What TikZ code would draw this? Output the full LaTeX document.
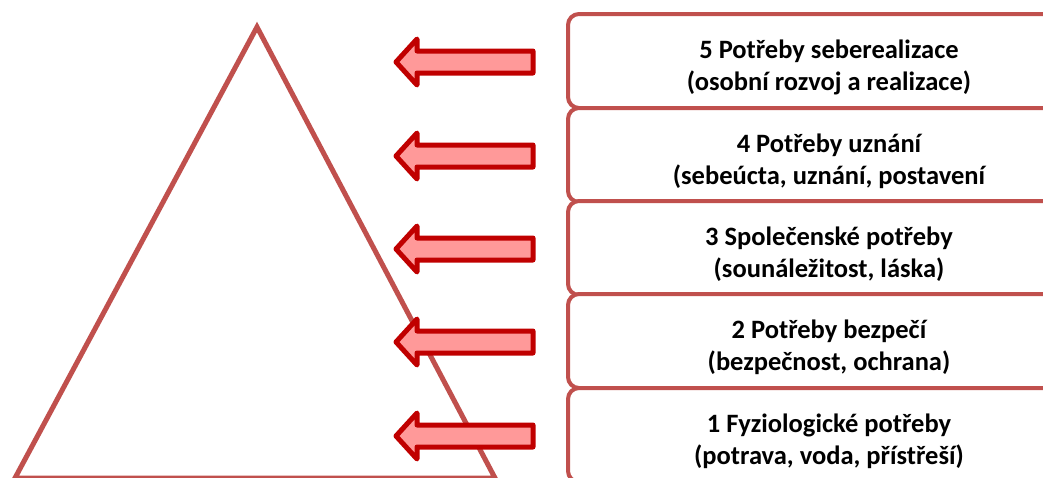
\documentclass[tikz,border=0pt]{standalone}
\usepackage{fontspec}
\setmainfont{Carlito}
\definecolor{pyramid}{HTML}{C0504D}
\definecolor{arrowline}{HTML}{C00000}
\definecolor{arrowfill}{HTML}{FF9999}

\begin{document}
\begin{tikzpicture}[x=1pt,y=-1pt,
  level/.style={draw=pyramid, line width=4pt, fill=white, rounded corners=11pt,
    rectangle, minimum width=537pt, minimum height=94pt, inner sep=0pt, outer sep=0pt,
    anchor=north west},
  pointer/.style={draw=arrowline, fill=arrowfill, line width=5pt, line join=round},
  caption/.style={font=\bfseries\fontsize{26.5}{32}\selectfont, anchor=base, inner sep=0pt}]
\useasboundingbox (0,0) rectangle (1043,477);
\clip (0,0) rectangle (1043,477);

% pyramid outline
\draw[draw=pyramid, line width=5pt] (257,27) -- (495,478) -- (15,478) -- cycle;

% need levels, top to bottom; each box overlaps the lower edge of the previous one
\foreach \i/\top/\first/\second in {
    5/14/{5 Potřeby seberealizace}/{(osobní rozvoj a realizace)},
    4/108/{4 Potřeby uznání}/{(sebeúcta, uznání, postavení},
    3/201/{3 Společenské potřeby}/{(sounáležitost, láska)},
    2/294/{2 Potřeby bezpečí}/{(bezpečnost, ochrana)},
    1/388/{1 Fyziologické potřeby}/{(potrava, voda, přístřeší)}} {
  \node[level] (box\i) at (568,\top) {};
  \begin{scope}
    \clip (570,\top) rectangle (1043,\top+80);
    \node[caption] (title\i) at (829,\top+44) {\first};
    \node[caption] (detail\i) at (829,\top+76) {\second};
  \end{scope}
  % block arrow pointing at the pyramid
  \draw[pointer] (396,\top+48) -- ++(21,-23) -- ++(0,12) -- ++(116,0)
    -- ++(0,22) -- ++(-116,0) -- ++(0,12) -- cycle;
}
\end{tikzpicture}
\end{document}
